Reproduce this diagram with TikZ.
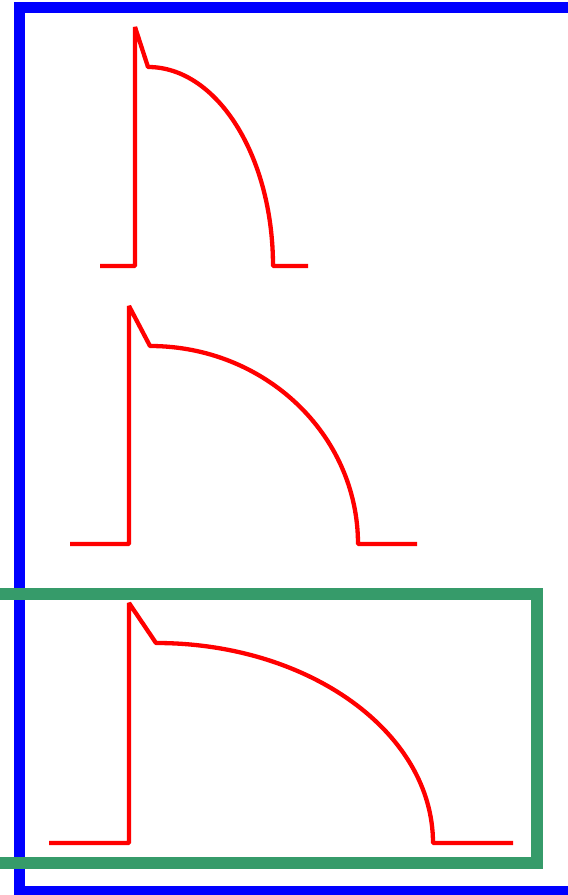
\documentclass[tikz,border=0pt]{standalone}
\usepackage{tikz}
\definecolor{boxgreen}{RGB}{54,155,106}
\tikzstyle{trace}=[draw=red,line width=4.3pt,line join=bevel]
\tikzstyle{outerbox}=[draw=blue,line width=11.5pt]
\tikzstyle{innerbox}=[draw=boxgreen,line width=12pt]

\begin{document}
\begin{tikzpicture}[x=1pt,y=1pt]
\clip (0,0) rectangle (568,895);
\draw[outerbox] (590,887.5) -- (19.5,887.5) -- (19.5,3.5) -- (590,3.5);
\draw[innerbox] (-20,301) -- (537,301) -- (537,32) -- (-20,32);
\draw[trace] (100,629) -- (135,629) -- (135,868) -- (148,828) arc[start angle=90,end angle=0,x radius=125,y radius=199] -- (308,629);
\draw[trace] (70,351) -- (129,351) -- (129,589) -- (150,549) arc[start angle=90,end angle=0,x radius=208,y radius=198] -- (417,351);
\draw[trace] (49,52) -- (129,52) -- (129,292) -- (156,252) arc[start angle=90,end angle=0,x radius=277,y radius=200] -- (513,52);
\end{tikzpicture}
\end{document}
